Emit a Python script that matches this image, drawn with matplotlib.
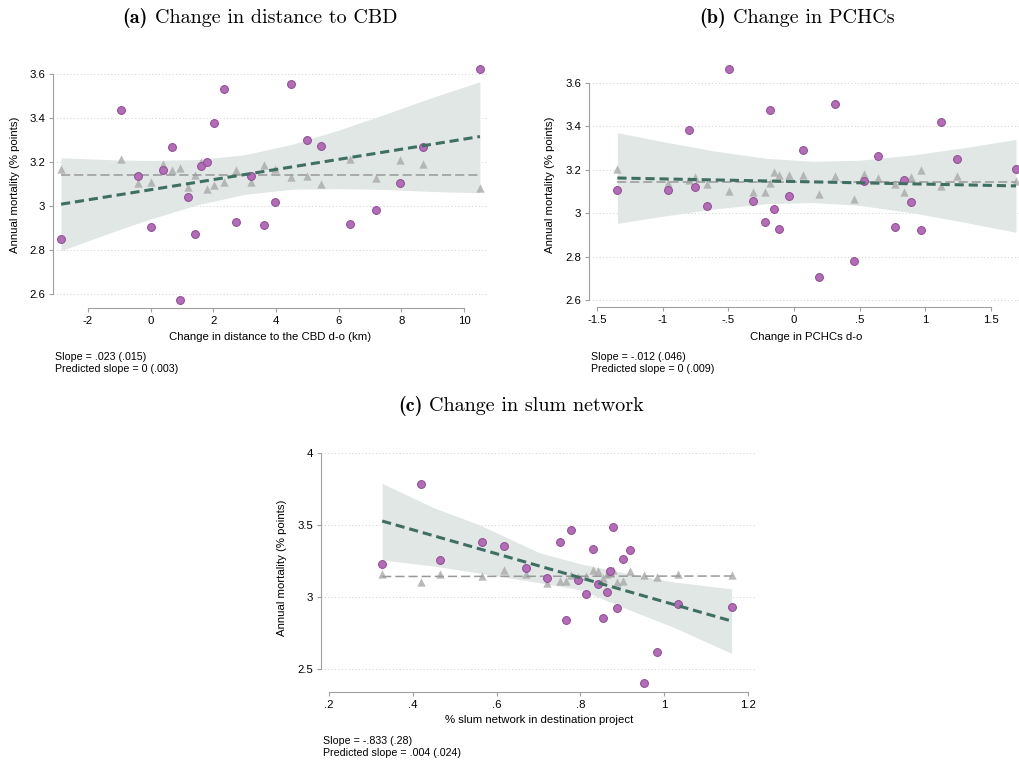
import matplotlib
matplotlib.use("Agg")
import matplotlib.pyplot as plt
from matplotlib.offsetbox import TextArea, HPacker, AnnotationBbox
import numpy as np

plt.rcParams['font.family'] = ['Liberation Sans', 'DejaVu Sans']

W, H = 1019, 761

# (a) distance to the CBD: binned actual / predicted mortality
a_x = [-2.86, -0.96, -0.39, 0.01, 0.38, 0.67, 0.95, 1.20, 1.42, 1.60, 1.79, 2.01, 2.34,
       2.73, 3.19, 3.61, 3.98, 4.47, 4.98, 5.45, 6.36, 7.18, 7.97, 8.68, 10.51]
a_actual = [2.851, 3.438, 3.138, 2.906, 3.165, 3.268, 2.573, 3.041, 2.873, 3.182, 3.200, 3.376, 3.533,
            2.927, 3.138, 2.915, 3.020, 3.553, 3.301, 3.273, 2.920, 2.980, 3.103, 3.270, 3.621]
a_pred = [3.168, 3.212, 3.106, 3.107, 3.190, 3.162, 3.174, 3.088, 3.141, 3.200, 3.076, 3.095, 3.107,
          3.165, 3.110, 3.186, 3.168, 3.133, 3.137, 3.100, 3.214, 3.126, 3.210, 3.190, 3.083]
a_fit = (3.074, 0.023)
a_pfit = (3.141, 0.0)
a_band_x = [-2.86, -1, 0, 1.5, 3, 4.5, 6, 7.5, 9, 10.51]
a_band_hi = [3.219, 3.209, 3.207, 3.211, 3.233, 3.280, 3.345, 3.418, 3.494, 3.565]
a_band_lo = [2.797, 2.893, 2.941, 3.006, 3.053, 3.076, 3.079, 3.075, 3.066, 3.060]

# (b) PCHCs
b_x = [-1.345, -0.959, -0.799, -0.751, -0.665, -0.497, -0.310, -0.218, -0.182, -0.154, -0.111, -0.035, 0.069,
       0.191, 0.310, 0.460, 0.536, 0.638, 0.767, 0.838, 0.889, 0.968, 1.122, 1.240, 1.691]
b_actual = [3.108, 3.108, 3.383, 3.119, 3.033, 3.663, 3.056, 2.959, 3.474, 3.019, 2.927, 3.079, 3.293,
            2.706, 3.503, 2.778, 3.147, 3.264, 2.936, 3.154, 3.053, 2.923, 3.420, 3.248, 3.204]
b_pred = [3.202, 3.138, 3.153, 3.165, 3.133, 3.101, 3.099, 3.097, 3.139, 3.188, 3.177, 3.174, 3.174,
          3.087, 3.173, 3.067, 3.181, 3.164, 3.136, 3.096, 3.165, 3.200, 3.127, 3.171, 3.148]
b_fit = (3.146, -0.012)
b_pfit = (3.143, 0.0)
b_band_x = [-1.345, -1, -0.6, -0.2, 0.15, 0.5, 0.9, 1.3, 1.691]
b_band_hi = [3.371, 3.330, 3.286, 3.252, 3.239, 3.244, 3.268, 3.302, 3.340]
b_band_lo = [2.953, 2.986, 3.020, 3.044, 3.049, 3.036, 3.002, 2.958, 2.912]

# (c) slum network
c_x = [0.327, 0.419, 0.466, 0.566, 0.618, 0.670, 0.720, 0.752, 0.766, 0.778, 0.794, 0.814, 0.830,
       0.843, 0.853, 0.863, 0.871, 0.879, 0.888, 0.901, 0.918, 0.953, 0.984, 1.033, 1.161]
c_actual = [3.231, 3.785, 3.257, 3.380, 3.356, 3.201, 3.132, 3.382, 2.838, 3.465, 3.120, 3.023, 3.331,
            3.090, 2.852, 3.033, 3.178, 3.486, 2.926, 3.266, 3.326, 2.401, 2.620, 2.954, 2.931]
c_pred = [3.160, 3.106, 3.160, 3.148, 3.188, 3.160, 3.100, 3.113, 3.113, 3.150, 3.141, 3.146, 3.190,
          3.181, 3.134, 3.160, 3.169, 3.188, 3.104, 3.113, 3.178, 3.153, 3.137, 3.160, 3.150]
c_fit = (3.800, -0.833)
c_pfit = (3.141, 0.004)
c_band_x = [0.327, 0.45, 0.56, 0.7, 0.8, 0.9, 1.022, 1.161]
c_band_hi = [3.789, 3.620, 3.500, 3.310, 3.230, 3.170, 3.105, 3.056]
c_band_lo = [3.257, 3.215, 3.165, 3.100, 3.050, 2.930, 2.790, 2.609]

# axis ticks
a_xticks = [-2, 0, 2, 4, 6, 8, 10]
a_xticklabels = ['-2', '0', '2', '4', '6', '8', '10']
b_xticks = [-1.5, -1, -0.5, 0, 0.5, 1, 1.5]
b_xticklabels = ['-1.5', '-1', '-.5', '0', '.5', '1', '1.5']
c_xticks = [0.2, 0.4, 0.6, 0.8, 1.0, 1.2]
c_xticklabels = ['.2', '.4', '.6', '.8', '1', '1.2']
ab_yticks = [2.6, 2.8, 3.0, 3.2, 3.4, 3.6]
ab_yticklabels = ['2.6', '2.8', '3', '3.2', '3.4', '3.6']
c_yticks = [2.5, 3.0, 3.5, 4.0]
c_yticklabels = ['2.5', '3', '3.5', '4']

title_tags = ['(a)', '(b)', '(c)']
title_texts = ['Change in distance to CBD', 'Change in PCHCs', 'Change in slum network']
xlabels = ['Change in distance to the CBD d-o (km)', 'Change in PCHCs d-o',
           '% slum network in destination project']
ylabel = 'Annual mortality (% points)'
notes = [['Slope = .023 (.015)', 'Predicted slope = 0 (.003)'],
         ['Slope = -.012 (.046)', 'Predicted slope = 0 (.009)'],
         ['Slope = -.833 (.28)', 'Predicted slope = .004 (.024)']]

PURPLE = '#b36cb6'
PURPLE_EDGE = '#8d4b92'
GREEN = '#3f6e62'
BAND = '#e1e7e5'
AXIS_GREY = '#a0a0a0'


def fx(x):
    return x / W


def fy(y):
    return 1 - y / H


def add_axes_px(fig, left, top, right, bottom):
    return fig.add_axes([fx(left), fy(bottom), (right - left) / W, (bottom - top) / H])


# bold tag + roman text, computer modern like LaTeX subcaptions
def panel_title(fig, tag, text, px, py, size=14.5):
    t1 = TextArea(tag, textprops=dict(family='cmb10', size=size))
    t2 = TextArea(text, textprops=dict(family='cmr10', size=size))
    box = HPacker(children=[t1, t2], align='baseline', pad=0, sep=5)
    ab = AnnotationBbox(box, (fx(px), fy(py)), xycoords='figure fraction',
                        frameon=False, box_alignment=(0.5, 0.5))
    fig.add_artist(ab)


def draw_panel(ax, x, actual, pred, fit, pfit, band_x, band_lo, band_hi,
               xlim, ylim, xticks, xticklabels, yticks, yticklabels):
    x = np.array(x)
    ax.set_xlim(*xlim)
    ax.set_ylim(*ylim)

    # confidence band of the linear fit
    ax.fill_between(band_x, band_lo, band_hi, color=BAND, lw=0, zorder=1)

    # predicted mortality (grey triangles + flat fit)
    ax.scatter(x, pred, marker='^', s=36, color='#a9a9a9', alpha=0.8, lw=0, zorder=2)
    xs = np.array([x.min(), x.max()])
    ax.plot(xs, pfit[0] + pfit[1] * xs, color='#999999', lw=1.1,
            dashes=(6, 2.6), zorder=3)

    # actual mortality
    ax.scatter(x, actual, marker='o', s=32, facecolor=PURPLE, edgecolor=PURPLE_EDGE,
               lw=0.7, zorder=4, clip_on=False)
    ax.plot(xs, fit[0] + fit[1] * xs, color=GREEN, lw=2.2, dashes=(3, 1.6), zorder=5)

    ax.set_xticks(xticks)
    ax.set_xticklabels(xticklabels)
    ax.set_yticks(yticks)
    ax.set_yticklabels(yticklabels)
    ax.yaxis.grid(True, linestyle=(0, (1, 2.5)), color='#cfcfcf', lw=0.7)
    ax.set_axisbelow(True)

    for s in ['top', 'right']:
        ax.spines[s].set_visible(False)
    ax.spines['left'].set_bounds(yticks[0], yticks[-1])
    ax.spines['bottom'].set_bounds(xticks[0], xticks[-1])
    ax.spines['bottom'].set_position(('outward', 3))
    for s in ['left', 'bottom']:
        ax.spines[s].set_color(AXIS_GREY)
        ax.spines[s].set_linewidth(0.8)
    ax.tick_params(direction='out', length=3, width=0.8, color=AXIS_GREY,
                   labelsize=8.2, labelcolor='black', pad=2.5)


def main():
    fig = plt.figure(figsize=(W / 100, H / 100), dpi=100)

    ax_a = add_axes_px(fig, 53, 64, 487, 304)
    draw_panel(ax_a, a_x, a_actual, a_pred, a_fit, a_pfit, a_band_x, a_band_lo, a_band_hi,
               (-3.117, 10.735), (2.5545, 3.6455), a_xticks, a_xticklabels,
               ab_yticks, ab_yticklabels)

    ax_b = add_axes_px(fig, 589, 64, 1019, 303)
    draw_panel(ax_b, b_x, b_actual, b_pred, b_fit, b_pfit, b_band_x, b_band_lo, b_band_hi,
               (-1.561, 1.714), (2.586, 3.6876), b_xticks, b_xticklabels,
               ab_yticks, ab_yticklabels)

    ax_c = add_axes_px(fig, 321, 450, 757, 688)
    draw_panel(ax_c, c_x, c_actual, c_pred, c_fit, c_pfit, c_band_x, c_band_lo, c_band_hi,
               (0.181, 1.2215), (2.368, 4.0208), c_xticks, c_xticklabels,
               c_yticks, c_yticklabels)

    # panel titles
    for tag, t, (px, py) in zip(title_tags, title_texts, [(260, 18), (797, 18), (521, 406)]):
        panel_title(fig, tag, t, px, py)

    # axis titles
    for t, (px, py) in zip(xlabels, [(270, 337), (806, 337), (539, 720)]):
        fig.text(fx(px), fy(py), t, fontsize=8.2, ha='center', va='center')
    for px, py in [(15, 185), (550, 185), (282, 568)]:
        fig.text(fx(px), fy(py), ylabel, fontsize=8.2, ha='center', va='center', rotation=90)

    # slope notes under each panel
    for lines, (px, py) in zip(notes, [(55, 357), (591, 357), (323, 741)]):
        fig.text(fx(px), fy(py), lines[0], fontsize=7.7, ha='left', va='center')
        fig.text(fx(px), fy(py + 11.5), lines[1], fontsize=7.7, ha='left', va='center')

    fig.savefig('out.png', dpi=100, facecolor='white')


if __name__ == "__main__":
    main()
